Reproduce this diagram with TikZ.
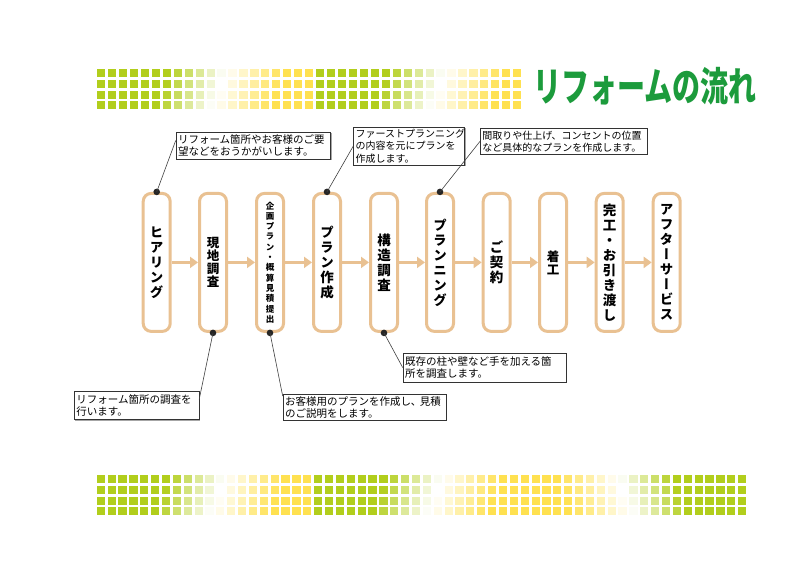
\documentclass[tikz,border=0pt]{standalone}
\usepackage{fontspec}
\setmainfont{Noto Sans CJK JP}
\newfontfamily\jp{Noto Sans CJK JP}
\newfontfamily\jpv[RawFeature=+vert]{Noto Sans CJK JP}
\usetikzlibrary{arrows.meta, shadows}
\definecolor{tilegreen}{RGB}{178,206,28}
\definecolor{tileyellow}{RGB}{255,225,80}
\definecolor{boxtan}{RGB}{233,193,146}
\definecolor{titlegreen}{RGB}{28,155,60}
% one square of the band: x, y, place in the fade
\newcommand{\drawtile}[3]{%
    \pgfmathtruncatemacro\gp{max(0,min(100,(11.3-#3)*20))}%
    \pgfmathtruncatemacro\yp{max(0,min(100,(#3-11.3)*18.2))}%
    \ifnum\gp>0 \colorlet{tilecol}{tilegreen!\gp!white}\else\colorlet{tilecol}{tileyellow!\yp!white}\fi
    \fill[tilecol] (#1,#2) rectangle ++(8.2,8);
}
\tikzset{
    stepbox/.style={draw=boxtan,line width=3pt,rounded corners=8pt,fill=white,minimum width=27pt,minimum height=138pt,inner sep=0pt,align=center,font=\jpv\bfseries\fontsize{13.5}{15}\selectfont},
    flowarrow/.style={draw=boxtan,line width=3pt,-{Triangle[length=8pt,width=11pt]}},
    callout/.style={draw=black!80,line width=0.7pt,fill=white,inner sep=2pt,anchor=north west,align=left,font=\jp\fontsize{10.5}{12.3}\selectfont,drop shadow={shadow xshift=1pt,shadow yshift=-1pt,fill=black!35,opacity=1}},
    dot/.style={circle,fill=black!85,inner sep=0pt,minimum size=6.6pt},
    callline/.style={draw=black!75,line width=0.6pt},
}

\begin{document}
\begin{tikzpicture}[x=1pt,y=-1pt]
    \fill[white] (0,0) rectangle (800,566);
    \useasboundingbox (0,0) rectangle (800,566);
    % bands of squares
    \foreach \i in {0,...,38}{
        \foreach \r in {0,...,3}{
            \pgfmathsetmacro\je{mod(\i,20)+0.35*\r}
            \drawtile{97+10.95*\i}{68.7+10.9*\r}{\je}
        }
    }
    \foreach \i in {0,...,59}{
        \foreach \r in {0,...,3}{
            \pgfmathsetmacro\je{(\i<40 ? mod(\i,20) : 59-\i)+0.35*\r}
            \drawtile{96.7+10.87*\i}{475+10.8*\r}{\je}
        }
    }
    \node[anchor=west,inner sep=0pt,text=titlegreen,font=\jp\bfseries\fontsize{40}{40}\selectfont] (title) at (533,86) {\scalebox{0.7}[1]{リフォームの流れ}};
    % steps
    \node[stepbox] (b1) at (156.7,262.4) {ヒ\\ア\\リ\\ン\\グ};
    \node[stepbox,font=\jpv\bfseries\fontsize{12.5}{13}\selectfont] (b2) at (213,262.4) {現\\地\\調\\査};
    \node[stepbox,font=\jpv\bfseries\fontsize{8.5}{10.3}\selectfont] (b3) at (270,262.4) {企\\画\\プ\\ラ\\ン\\・\\概\\算\\見\\積\\提\\出};
    \node[stepbox] (b4) at (327,262.4) {プ\\ラ\\ン\\作\\成};
    \node[stepbox] (b5) at (384,262.4) {構\\造\\調\\査};
    \node[stepbox] (b6) at (440,262.4) {プ\\ラ\\ン\\ニ\\ン\\グ};
    \node[stepbox] (b7) at (496.7,262.4) {ご\\契\\約};
    \node[stepbox,font=\jpv\bfseries\fontsize{12.5}{13}\selectfont] (b8) at (553,262.4) {着\\工};
    \node[stepbox] (b9) at (609.7,262.4) {完\\工\\・\\お\\引\\き\\渡\\し};
    \node[stepbox] (b10) at (666.7,262.4) {ア\\フ\\タ\\ー\\サ\\ー\\ビ\\ス};
    \foreach \a/\b in {b1/b2,b2/b3,b3/b4,b4/b5,b5/b6,b6/b7,b7/b8,b8/b9,b9/b10}
        \draw[flowarrow] (\a.east) -- (\b.west);
    % notes
    \node[callout,text width=150.5pt,minimum height=27pt] (c1) at (175.7,131.7) {リフォーム箇所やお客様のご要\\望などをおうかがいします。};
    \node[callout,text width=107pt,minimum height=38pt,font=\jp\fontsize{10}{12.3}\selectfont] (c2) at (353.3,126.7) {ファーストプランニング\\の内容を元にプランを\\作成します。};
    \node[callout,text width=163pt,text depth=13pt,font=\jp\fontsize{10}{12.3}\selectfont] (c3) at (480,128.3) {間取りや仕上げ、コンセントの位置\\など具体的なプランを作成します。};
    \node[callout,text width=120.5pt,minimum height=28.5pt] (c4) at (74,390.7) {リフォーム箇所の調査を\\行います。};
    \node[callout,text width=159pt,minimum height=25.3pt] (c5) at (282.7,394) {お客様用のプランを作成し､ 見積\\のご説明をします。};
    \node[callout,text width=159pt,minimum height=29pt] (c6) at (402.7,352.7) {既存の柱や壁など手を加える箇\\所を調査します。};
    \node[dot] (d1) at (b1.north) {};
    \node[dot] (d4) at (b4.north) {};
    \node[dot] (d6) at (b6.north) {};
    \node[dot] (d2) at (b2.south) {};
    \node[dot] (d3) at (b3.south) {};
    \node[dot] (d5) at (b5.south) {};
    \draw[callline] ([yshift=5pt]c1.west) -- (d1.center);
    \draw[callline] (c2.west) -- (d4.center);
    \draw[callline] (c3.west) -- (d6.center);
    \draw[callline] ([yshift=6pt]c4.east) -- (d2.center);
    \draw[callline] ([yshift=-2pt]c5.north west) -- (d3.center);
    \draw[callline] (c6.west) -- (d5.center);
\end{tikzpicture}
\end{document}
